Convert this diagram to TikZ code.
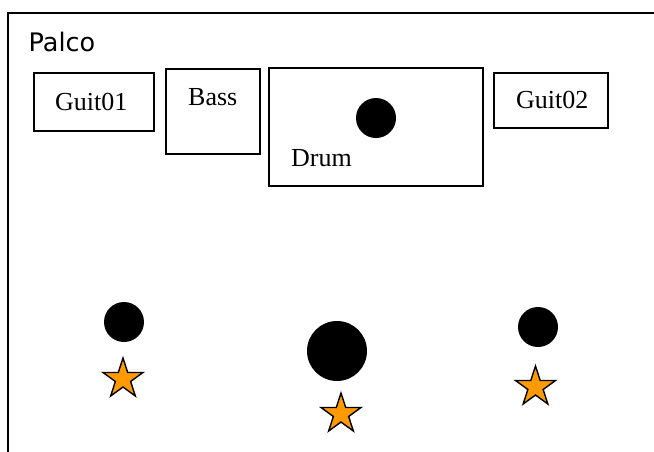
\documentclass[tikz,border=0pt]{standalone}
\usepackage{fontspec}
\setmainfont{Liberation Serif}
\newfontfamily\palcofont{DejaVu Sans}
\usetikzlibrary{shapes.geometric}
\definecolor{starorange}{RGB}{255,155,0}
\tikzset{
  boxnode/.style={draw=black, line width=2.2pt, inner sep=0pt, fill=white},
  lbl/.style={anchor=base west, inner sep=0pt, font=\fontsize{26}{29}\selectfont},
  dot/.style={circle, fill=black, inner sep=0pt},
  starnode/.style={star, star points=5, star point ratio=2.618, fill=starorange, draw=black, line width=1.4pt, inner sep=0pt, minimum size=42pt}
}
\begin{document}
\begin{tikzpicture}[x=1pt,y=-1pt]
\useasboundingbox (0,0) rectangle (654,451);
\clip (0,0) rectangle (654,451);
\coordinate (fbl) at (8,470);
\coordinate (ftl) at (8,13);
\coordinate (ftr) at (670,13);
\draw[line width=2.2pt] (fbl) -- (ftl) -- (ftr);
\node[anchor=base west, inner sep=0pt, font=\palcofont\fontsize{25.5}{29}\selectfont] (palco) at (28.5,51) {Palco};
% boxes
\node[boxnode, minimum width=120pt, minimum height=58pt] (guit01box) at (94,102) {};
\node[boxnode, minimum width=94pt, minimum height=85pt] (bassbox) at (213,111.5) {};
\node[boxnode, minimum width=214pt, minimum height=118pt] (drumbox) at (376,127) {};
\node[boxnode, minimum width=114pt, minimum height=55pt] (guit02box) at (551,100.5) {};
% labels
\node[lbl] (guit01) at (55,110) {Guit01};
\node[lbl] (bass) at (188,105) {Bass};
\node[lbl] (drum) at (291,166) {Drum};
\node[lbl] (guit02) at (516,108) {Guit02};
% drum dot
\node[dot, minimum size=40pt] (drumdot) at (376,118) {};
% musicians
\node[dot, minimum size=40pt] (m1) at (124,322) {};
\node[dot, minimum size=60pt] (m2) at (337,351) {};
\node[dot, minimum size=40pt] (m3) at (538,327) {};
\node[starnode] (s1) at (123,379) {};
\node[starnode] (s2) at (341,414) {};
\node[starnode] (s3) at (535.5,387) {};
\end{tikzpicture}
\end{document}
